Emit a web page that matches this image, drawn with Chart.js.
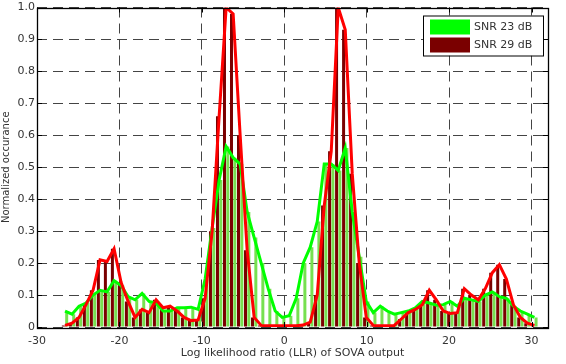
<!DOCTYPE html>
<html>
<head>
<meta charset="utf-8">
<script src="https://cdn.jsdelivr.net/npm/chart.js@4.4.1/dist/chart.umd.min.js"></script>
<style>
  html, body { margin: 0; padding: 0; background: #fff; }
</style>
</head>
<body>
<canvas id="llrChart" width="566" height="364"></canvas>
<script>
// histogram bin centres (LLR)
const llrBins = [
  -26.6, -25.75, -24.9, -24.05, -23.2, -22.35, -21.5, -20.65, -19.8, -18.95,
  -18.1, -17.25, -16.4, -15.55, -14.7, -13.85, -13.0, -12.15, -11.3, -10.45,
  -9.6, -8.75, -7.9, -7.05, -6.2, -5.35, -4.5, -3.65, -2.8, -1.95,
  -1.1, -0.25, 0.6, 1.45, 2.3, 3.15, 4.0, 4.85, 5.7, 6.55,
  7.4, 8.25, 9.1, 9.95, 10.8, 11.65, 12.5, 13.35, 14.2, 15.05,
  15.9, 16.75, 17.6, 18.45, 19.3, 20.15, 21.0, 21.85, 22.7, 23.55,
  24.4, 25.25, 26.1, 26.95, 27.8, 28.65, 29.5, 30.35
];

// normalized occurance, SNR 23 dB
const snr23 = [
  0.05, 0.04, 0.065, 0.075, 0.10, 0.115, 0.11, 0.145, 0.13, 0.095,
  0.085, 0.105, 0.08, 0.075, 0.05, 0.05, 0.06, 0.06, 0.062, 0.055,
  0.15, 0.31, 0.46, 0.565, 0.53, 0.51, 0.36, 0.28, 0.20, 0.12,
  0.05, 0.03, 0.035, 0.09, 0.20, 0.25, 0.33, 0.51, 0.51, 0.49,
  0.56, 0.36, 0.22, 0.08, 0.045, 0.065, 0.05, 0.04, 0.045, 0.05,
  0.06, 0.08, 0.075, 0.068, 0.07, 0.08, 0.065, 0.09, 0.085, 0.08,
  0.10, 0.11, 0.095, 0.09, 0.065, 0.05, 0.04, 0.03
];

// normalized occurance, SNR 29 dB
const snr29 = [
  0.005, 0.012, 0.03, 0.07, 0.115, 0.21, 0.205, 0.245, 0.14, 0.08,
  0.03, 0.055, 0.045, 0.085, 0.06, 0.065, 0.05, 0.03, 0.02, 0.022,
  0.09, 0.30, 0.66, 1.0, 0.98, 0.60, 0.24, 0.03, 0.005, 0.004,
  0.004, 0.004, 0.004, 0.004, 0.006, 0.015, 0.10, 0.38, 0.55, 1.0,
  0.93, 0.48, 0.20, 0.03, 0.005, 0.004, 0.004, 0.005, 0.025, 0.045,
  0.055, 0.07, 0.115, 0.085, 0.05, 0.042, 0.045, 0.12, 0.10, 0.085,
  0.12, 0.17, 0.195, 0.15, 0.07, 0.03, 0.012, 0.005
];

const xTicks = [-30, -20, -10, 0, 10, 20, 30];
const yTicks = [0, 0.1, 0.2, 0.3, 0.4, 0.5, 0.6, 0.7, 0.8, 0.9, 1];
const seriesNames = ['SNR 23 dB', 'SNR 29 dB'];

const pts = ys => llrBins.map((x, i) => ({ x: x, y: ys[i] }));

const FONT = "'DejaVu Sans', 'Liberation Sans', Arial, sans-serif";
const TEXT = '#333';

// matlab style box, inner ticks and legend
const axesBox = {
  id: 'axesBox',
  afterDraw(chart) {
    const { ctx, chartArea: a, scales } = chart;
    ctx.save();
    ctx.strokeStyle = '#000';
    ctx.lineWidth = 1;
    ctx.beginPath();
    xTicks.forEach(v => {
      const px = Math.round(scales.x.getPixelForValue(v)) + 0.5;
      ctx.moveTo(px, a.bottom); ctx.lineTo(px, a.bottom - 5);
      ctx.moveTo(px, a.top); ctx.lineTo(px, a.top + 5);
    });
    yTicks.forEach(v => {
      const py = Math.round(scales.y.getPixelForValue(v)) + 0.5;
      ctx.moveTo(a.left, py); ctx.lineTo(a.left + 5, py);
      ctx.moveTo(a.right, py); ctx.lineTo(a.right - 5, py);
    });
    ctx.stroke();
    ctx.lineWidth = 1.3;
    ctx.strokeRect(Math.round(a.left) + 0.5, Math.round(a.top) + 0.5,
      Math.round(a.right - a.left), Math.round(a.bottom - a.top));

    // legend
    const bx = a.right - 125, by = a.top + 8, bw = 120, bh = 40;
    ctx.fillStyle = '#fff';
    ctx.fillRect(bx, by, bw, bh);
    ctx.lineWidth = 1;
    ctx.strokeStyle = '#000';
    ctx.strokeRect(bx + 0.5, by + 0.5, bw, bh);
    ctx.font = '11px ' + FONT;
    ctx.textBaseline = 'middle';
    const bars = [chart.data.datasets[2], chart.data.datasets[3]];
    bars.forEach((ds, i) => {
      const ry = by + 4 + i * 18;
      ctx.fillStyle = ds.legendColor;
      ctx.fillRect(bx + 7, ry, 40, 15);
      ctx.fillStyle = TEXT;
      ctx.fillText(ds.label, bx + 51, ry + 8);
    });
    ctx.restore();
  }
};

new Chart(document.getElementById('llrChart'), {
  type: 'bar',
  data: {
    datasets: [
      {
        type: 'line', label: 'line29', data: pts(snr29), order: 0,
        borderColor: '#ff0000', borderWidth: 3, pointRadius: 0, tension: 0
      },
      {
        type: 'line', label: 'line23', data: pts(snr23), order: 1,
        borderColor: '#00ff00', borderWidth: 3, pointRadius: 0, tension: 0
      },
      {
        label: seriesNames[0], data: pts(snr23), order: 3,
        backgroundColor: '#77e050', legendColor: '#00ff00',
        categoryPercentage: 0.95, barPercentage: 0.9
      },
      {
        label: seriesNames[1], data: pts(snr29), order: 2,
        backgroundColor: '#7a0000', legendColor: '#7a0000',
        categoryPercentage: 0.95, barPercentage: 0.9
      }
    ]
  },
  options: {
    responsive: false,
    animation: false,
    layout: { padding: { left: 0, right: 18, top: 5, bottom: 0 } },
    plugins: { legend: { display: false }, tooltip: { enabled: false } },
    scales: {
      x: {
        type: 'linear',
        min: -30, max: 32,
        offset: false,
        afterBuildTicks: s => { s.ticks = xTicks.map(v => ({ value: v })); },
        afterFit: s => { s.height = 37; },
        grid: { color: '#444', lineWidth: 1, drawTicks: false, offset: false },
        border: { display: false, dash: [10, 6] },
        ticks: { padding: 8, color: TEXT, font: { family: FONT, size: 11 }, maxRotation: 0 },
        title: {
          display: true, text: 'Log likelihood ratio (LLR) of SOVA output',
          color: TEXT, font: { family: FONT, size: 11 }, padding: { top: 0, bottom: 4 }
        }
      },
      y: {
        min: 0, max: 1,
        afterBuildTicks: s => { s.ticks = yTicks.map(v => ({ value: v })); },
        afterFit: s => { s.width = 37; },
        grid: { color: '#444', lineWidth: 1, drawTicks: false },
        border: { display: false, dash: [10, 6] },
        ticks: { padding: 2, color: TEXT, font: { family: FONT, size: 11, lineHeight: 1 } },
        title: {
          display: true, text: 'Normalized occurance',
          color: TEXT, font: { family: FONT, size: 10 }, padding: 0
        }
      }
    }
  },
  plugins: [axesBox]
});
</script>
</body>
</html>
